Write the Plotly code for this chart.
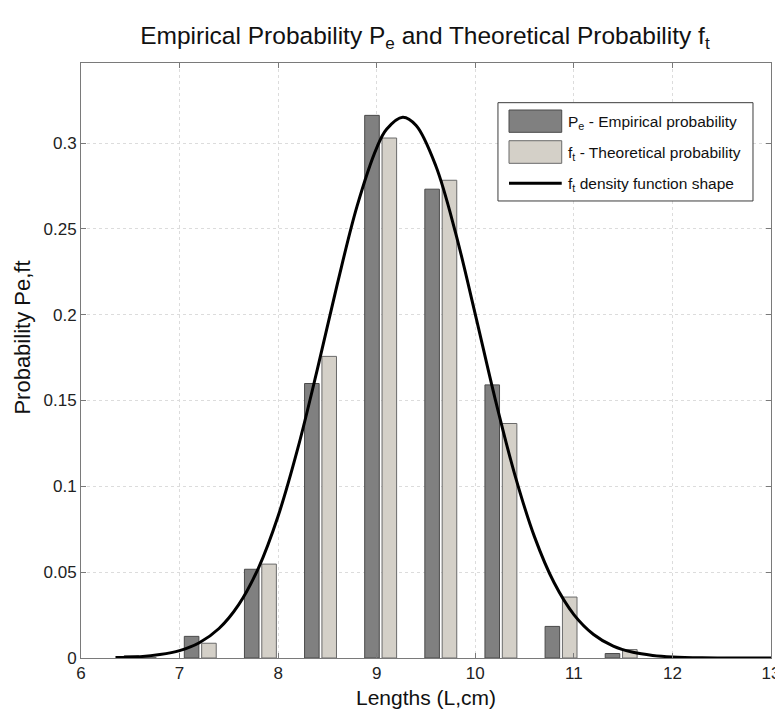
import plotly.graph_objects as go

# Bin centres (cm)
bin_centers = [6.60, 7.21, 7.82, 8.43, 9.04, 9.65, 10.26, 10.87, 11.48, 12.09, 12.70]
# Empirical probability Pe
pe_values = [0.0013, 0.0126, 0.0517, 0.1599, 0.3161, 0.2731, 0.1591, 0.0184, 0.0026, 0.0008, 0.0003]
# Theoretical probability ft
ft_values = [0.0003, 0.0086, 0.0547, 0.1757, 0.3029, 0.2783, 0.1366, 0.0355, 0.0049, 0.0003, 0.0001]

# Density function shape
curve_x = [6.35, 6.6, 6.8, 7.0, 7.2, 7.4, 7.6, 7.8, 8.0, 8.2, 8.4, 8.6, 8.8, 9.0, 9.1,
           9.264, 9.4, 9.6, 9.8, 10.0, 10.2, 10.4, 10.6, 10.8, 11.0, 11.2, 11.4, 11.6,
           11.8, 12.0, 12.3, 12.6, 13.0]
curve_y = [0.0003, 0.0008, 0.0020, 0.0043, 0.0089, 0.0172, 0.0311, 0.0524, 0.0827,
           0.1222, 0.1687, 0.2178, 0.2631, 0.2972, 0.3080, 0.3150, 0.3102, 0.2866,
           0.2477, 0.2002, 0.1513, 0.1070, 0.0707, 0.0438, 0.0253, 0.0137, 0.0069,
           0.0033, 0.0015, 0.0006, 0.0001, 0.0000, 0.0000]

x_ticks = [6, 7, 8, 9, 10, 11, 12, 13]
y_ticks = [0, 0.05, 0.1, 0.15, 0.2, 0.25, 0.3]
y_tick_labels = ["0", "0.05", "0.1", "0.15", "0.2", "0.25", "0.3"]

DARK = "#808080"
LIGHT = "#d4d0c8"
FONT = "Liberation Sans, Arial, sans-serif"

fig = go.Figure()
fig.add_trace(go.Bar(x=bin_centers, y=pe_values, name="P<sub>e</sub> - Empirical probability",
                     marker=dict(color=DARK, line=dict(color="#4a4a4a", width=1))))
fig.add_trace(go.Bar(x=bin_centers, y=ft_values, name="f<sub>t</sub> - Theoretical probability",
                     marker=dict(color=LIGHT, line=dict(color="#6a6a6a", width=1))))
fig.add_trace(go.Scatter(x=curve_x, y=curve_y, mode="lines", line_shape="spline",
                         name="f<sub>t</sub> density function shape",
                         line=dict(color="black", width=3)))

# custom legend (MATLAB style)
lx0, lx1, ly0, ly1 = 0.6043, 0.9739, 0.7681, 0.9333
sx0, sx1 = 0.6203, 0.6967
shapes = [
    dict(type="rect", xref="paper", yref="paper", x0=lx0, x1=lx1, y0=ly0, y1=ly1,
         fillcolor="white", line=dict(color="#3c3c3c", width=1), layer="above"),
    dict(type="rect", xref="paper", yref="paper", x0=sx0, x1=sx1, y0=0.8835, y1=0.9210,
         fillcolor=DARK, line=dict(color="#4a4a4a", width=1), layer="above"),
    dict(type="rect", xref="paper", yref="paper", x0=sx0, x1=sx1, y0=0.8314, y1=0.8694,
         fillcolor=LIGHT, line=dict(color="#6a6a6a", width=1), layer="above"),
    dict(type="line", xref="paper", yref="paper", x0=sx0, x1=sx1, y0=0.7978, y1=0.7978,
         line=dict(color="black", width=3), layer="above"),
]
legend_texts = ["P<sub>e</sub> - Empirical probability",
                "f<sub>t</sub> - Theoretical probability",
                "f<sub>t</sub> density function shape"]
legend_y = [0.8995, 0.8475, 0.7950]
annotations = [dict(text=t, xref="paper", yref="paper", x=0.7030, y=yy, xanchor="left",
                    yanchor="middle", showarrow=False, font=dict(size=15.5, color="#111"))
               for t, yy in zip(legend_texts, legend_y)]
# y-axis title (MATLAB places it slightly above the centre)
annotations.append(dict(text="Probability Pe,ft", xref="paper", yref="paper",
                        x=-0.0845, y=0.538, xanchor="center", yanchor="middle",
                        textangle=-90, showarrow=False, font=dict(size=22, color="#111")))

# the page body adds an 8 px margin, so the figure is 8 px smaller than the window
fig.update_layout(
    width=775, height=702,
    margin=dict(l=73, r=12, t=55, b=52),
    paper_bgcolor="white", plot_bgcolor="white",
    font=dict(family=FONT, color="#111"),
    title=dict(text="Empirical Probability P<sub>e</sub> and Theoretical Probability f<sub>t</sub>",
               x=0.538, xanchor="center", y=0.961, yanchor="middle",
               font=dict(size=24.5, color="#111")),
    barmode="group", bargap=0.423, bargroupgap=0.16,
    showlegend=False,
    shapes=shapes, annotations=annotations,
)
axis_common = dict(showline=True, linecolor="#7a7a7a", linewidth=1, mirror="allticks",
                   ticks="inside", ticklen=5, tickcolor="#7a7a7a", automargin=False,
                   showgrid=True, gridcolor="#dcdcdc", griddash="dot", gridwidth=1,
                   zeroline=False, tickfont=dict(size=17, color="#222"))
fig.update_xaxes(range=[6, 13], tickvals=x_ticks, ticktext=[str(v) for v in x_ticks],
                 title=dict(text="Lengths (L,cm)", font=dict(size=21), standoff=7),
                 **axis_common)
fig.update_yaxes(range=[0, 0.3466], tickvals=y_ticks, ticktext=y_tick_labels,
                 **axis_common)

fig.write_html("out.html")
